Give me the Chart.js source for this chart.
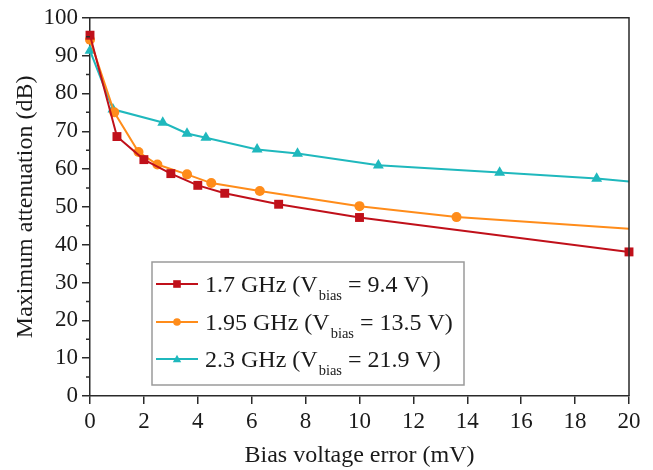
<!DOCTYPE html>
<html>
<head>
<meta charset="utf-8">
<script src="https://cdn.jsdelivr.net/npm/chart.js@4.4.1/dist/chart.umd.min.js"></script>
<style>
  html, body { margin: 0; padding: 0; background: #fff; }
  #wrap { width: 653px; height: 470px; }
</style>
</head>
<body>
<div id="wrap"><canvas id="chart"></canvas></div>
<script>
// values
const xRed = [0, 1, 2, 3, 4, 5, 7, 10, 20];
const yRed = [95.4, 68.6, 62.5, 58.8, 55.7, 53.6, 50.7, 47.2, 38.1];

const xOrange = [0, 0.9, 1.8, 2.5, 3.6, 4.5, 6.3, 10, 13.6, 20];
const yOrange = [94.2, 75, 64.5, 61.2, 58.6, 56.3, 54.2, 50.2, 47.3, 44.2];

const xCyan = [0, 0.85, 2.7, 3.6, 4.3, 6.2, 7.7, 10.7, 15.2, 18.8, 20];
const yCyan = [91.3, 75.8, 72.3, 69.4, 68.3, 65.2, 64.1, 61, 59.1, 57.5, 56.7];

const seriesNames = ['1.7 GHz (V', '1.95 GHz (V', '2.3 GHz (V'];
const seriesTails = [' = 9.4 V)', ' = 13.5 V)', ' = 21.9 V)'];

const xTicks = [0, 2, 4, 6, 8, 10, 12, 14, 16, 18, 20];
const yTicks = [0, 10, 20, 30, 40, 50, 60, 70, 80, 90, 100];

const RED = '#C0101A';
const ORANGE = '#FF8C1A';
const CYAN = '#1FB8BD';
const AXIS = '#2a2a2a';
const FONT = '"Liberation Serif", "Times New Roman", serif';

function pts(xs, ys) {
  return xs.map((x, i) => ({ x: x, y: ys[i] }));
}
// last orange / cyan points carry no marker (line just runs to the frame)
function radii(n, r, hideLast) {
  return Array.from({ length: n }, (_, i) => (hideLast && i === n - 1 ? 0 : r));
}

function marker(ctx, style, x, y, r, color) {
  ctx.save();
  ctx.fillStyle = color;
  ctx.beginPath();
  if (style === 'rect') {
    ctx.rect(x - r, y - r, 2 * r, 2 * r);
  } else if (style === 'circle') {
    ctx.arc(x, y, r, 0, Math.PI * 2);
  } else {
    const h = r * 1.1;
    ctx.moveTo(x, y - h);
    ctx.lineTo(x + h, y + h * 0.75);
    ctx.lineTo(x - h, y + h * 0.75);
    ctx.closePath();
  }
  ctx.fill();
  ctx.restore();
}

// frame on top/right, minor ticks on y, and the boxed legend
const framePlugin = {
  id: 'frame',
  afterDraw(chart) {
    const ctx = chart.ctx;
    const a = chart.chartArea;
    ctx.save();
    ctx.strokeStyle = AXIS;
    ctx.lineWidth = 1.5;
    ctx.beginPath();
    ctx.moveTo(a.left, a.top);
    ctx.lineTo(a.right, a.top);
    ctx.lineTo(a.right, a.bottom);
    ctx.stroke();

    const ys = chart.scales.y;
    ctx.beginPath();
    for (let v = 5; v < 100; v += 10) {
      const py = ys.getPixelForValue(v);
      ctx.moveTo(a.left - 4, py);
      ctx.lineTo(a.left, py);
    }
    ctx.stroke();
    ctx.restore();
  }
};

const legendPlugin = {
  id: 'boxLegend',
  afterDraw(chart) {
    const ctx = chart.ctx;
    const x0 = 152, y0 = 262, w = 312, h = 123;
    ctx.save();
    ctx.fillStyle = '#fff';
    ctx.fillRect(x0, y0, w, h);
    ctx.strokeStyle = '#9a9a9a';
    ctx.lineWidth = 1.5;
    ctx.strokeRect(x0, y0, w, h);

    const styles = ['rect', 'circle', 'triangle'];
    const colors = [RED, ORANGE, CYAN];
    const rowY = [284, 322, 359];
    for (let i = 0; i < 3; i++) {
      const cy = rowY[i];
      ctx.strokeStyle = colors[i];
      ctx.lineWidth = 2;
      ctx.beginPath();
      ctx.moveTo(x0 + 4, cy);
      ctx.lineTo(x0 + 46, cy);
      ctx.stroke();
      marker(ctx, styles[i], x0 + 25, cy, 3.8, colors[i]);

      ctx.fillStyle = '#1a1a1a';
      ctx.textBaseline = 'alphabetic';
      ctx.textAlign = 'left';
      let tx = x0 + 53;
      ctx.font = '24px ' + FONT;
      ctx.fillText(seriesNames[i], tx, cy + 8);
      tx += ctx.measureText(seriesNames[i]).width + 1;
      ctx.font = '14.5px ' + FONT;
      ctx.fillText('bias', tx, cy + 16);
      tx += ctx.measureText('bias').width;
      ctx.font = '24px ' + FONT;
      ctx.fillText(seriesTails[i], tx, cy + 8);
    }
    ctx.restore();
  }
};

const ds = (label, data, color, style, r, hideLast) => ({
  label: label,
  data: data,
  showLine: true,
  borderColor: color,
  backgroundColor: color,
  borderWidth: 2,
  pointStyle: style,
  pointRadius: radii(data.length, r, hideLast),
  pointHoverRadius: 0,
  pointBorderWidth: 0,
  tension: 0,
  clip: false
});

new Chart(document.getElementById('chart'), {
  type: 'scatter',
  data: {
    datasets: [
      ds('1.7 GHz', pts(xRed, yRed), RED, 'rect', 6.3, false),
      ds('1.95 GHz', pts(xOrange, yOrange), ORANGE, 'circle', 5, true),
      ds('2.3 GHz', pts(xCyan, yCyan), CYAN, 'triangle', 6.3, true)
    ]
  },
  options: {
    responsive: true,
    maintainAspectRatio: false,
    animation: false,
    events: [],
    layout: { padding: { left: 0, right: 24, top: 17, bottom: 0 } },
    plugins: {
      legend: { display: false },
      tooltip: { enabled: false }
    },
    scales: {
      x: {
        type: 'linear',
        min: 0,
        max: 20,
        afterBuildTicks: (s) => { s.ticks = xTicks.map(v => ({ value: v })); },
        afterFit: (s) => { s.height = 74; },
        ticks: { font: { family: FONT, size: 23 }, color: '#1a1a1a', padding: 4, maxRotation: 0 },
        grid: { drawOnChartArea: false, drawTicks: true, tickLength: 8, color: AXIS, lineWidth: 1.5 },
        border: { display: true, color: AXIS, width: 1.5 },
        title: {
          display: true,
          text: 'Bias voltage error (mV)',
          font: { family: FONT, size: 24 },
          color: '#1a1a1a',
          padding: { top: 0, bottom: 0 }
        }
      },
      y: {
        min: 0,
        max: 100,
        afterBuildTicks: (s) => { s.ticks = yTicks.map(v => ({ value: v })); },
        afterFit: (s) => { s.width = 90; },
        ticks: { font: { family: FONT, size: 23 }, color: '#1a1a1a', padding: 4 },
        grid: { drawOnChartArea: false, drawTicks: true, tickLength: 8, color: AXIS, lineWidth: 1.5 },
        border: { display: true, color: AXIS, width: 1.5 },
        title: {
          display: true,
          text: 'Maximum attenuation (dB)',
          font: { family: FONT, size: 24 },
          color: '#1a1a1a',
          padding: { top: 11, bottom: 0 }
        }
      }
    }
  },
  plugins: [framePlugin, legendPlugin]
});
</script>
</body>
</html>
